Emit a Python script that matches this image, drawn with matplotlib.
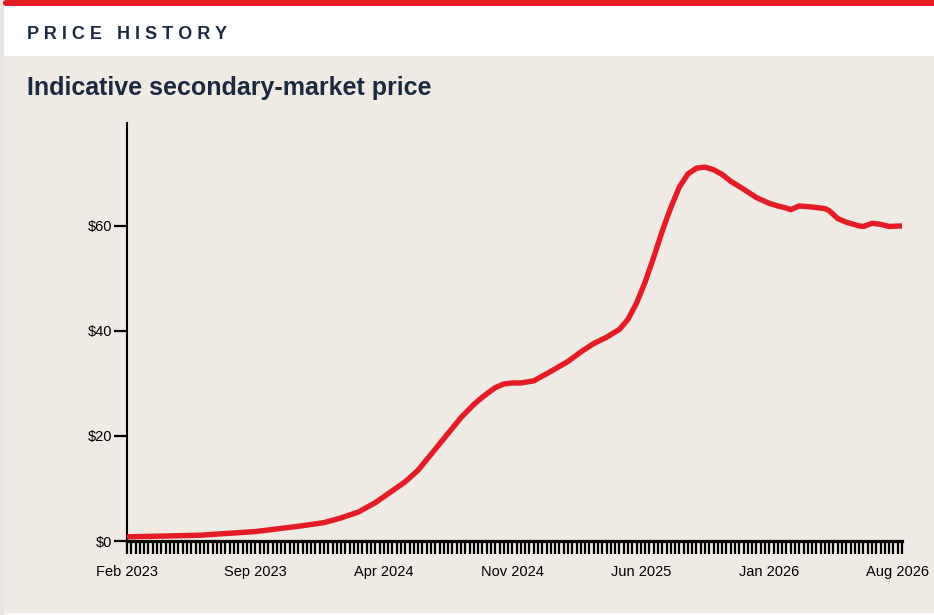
import numpy as np
import pandas as pd
import matplotlib
matplotlib.use("Agg")
import matplotlib.pyplot as plt
from matplotlib.patches import Rectangle, FancyBboxPatch

# Price readings (USD), sampled off the chart
dates = [
    "2023-02-20", "2023-04-24", "2023-06-19", "2023-09-18", "2023-11-27",
    "2024-01-08", "2024-02-05", "2024-03-04", "2024-04-01", "2024-04-22", "2024-05-20",
    "2024-06-10", "2024-07-01", "2024-07-22", "2024-08-19", "2024-09-09", "2024-09-23",
    "2024-10-14", "2024-10-28", "2024-11-11", "2024-11-25", "2024-12-16", "2025-01-13",
    "2025-02-10", "2025-03-03", "2025-03-24", "2025-04-14", "2025-05-05",
    "2025-05-19", "2025-06-02", "2025-06-16", "2025-06-30", "2025-07-14",
    "2025-07-28", "2025-08-11", "2025-08-25", "2025-09-08", "2025-09-22",
    "2025-10-06", "2025-10-20", "2025-11-03", "2025-11-24", "2025-12-15",
    "2026-01-05", "2026-01-19", "2026-02-02", "2026-02-09", "2026-02-23",
    "2026-03-16", "2026-04-06", "2026-04-13", "2026-04-27", "2026-05-11",
    "2026-06-01", "2026-06-08", "2026-06-22", "2026-07-06", "2026-07-20",
    "2026-08-10",
]
prices = [
    0.8, 0.95, 1.1, 1.8, 2.8,
    3.5, 4.4, 5.5, 7.3, 9.0, 11.3,
    13.5, 16.5, 19.5, 23.5, 26.0, 27.4,
    29.2, 29.9, 30.1, 30.1, 30.5, 32.3,
    34.2, 36.0, 37.6, 38.8, 40.3,
    42.2, 45.3, 49.3, 54.0, 59.0,
    63.5, 67.4, 69.9, 71.0, 71.2,
    70.7, 69.8, 68.5, 67.0, 65.4,
    64.3, 63.8, 63.4, 63.1, 63.8,
    63.6, 63.3, 62.9, 61.4, 60.7,
    60.0, 59.9, 60.5, 60.3, 59.9,
    60.0,
]
y_ticks = [0, 20, 40, 60]
y_labels = ["$0", "$20", "$40", "$60"]

navy = "#1b2a41"
red = "#e31c25"
beige = "#efebe4"

plt.rcParams["font.family"] = ["Liberation Sans", "DejaVu Sans"]

W, H = 934, 615
fig = plt.figure(figsize=(W / 100, H / 100), dpi=100)
fig.patch.set_facecolor("white")

# card background, header, red top bar, left border
fig.add_artist(Rectangle((4 / W, 0), 1, 1 - 56 / H, transform=fig.transFigure,
                         facecolor=beige, edgecolor="none", zorder=0))
fig.add_artist(Rectangle((0, 0), 4 / W, 1, transform=fig.transFigure,
                         facecolor="#e6e6e6", edgecolor="none", zorder=0))
fig.add_artist(Rectangle((4 / W, 0), 1, 2 / H, transform=fig.transFigure,
                         facecolor="#f6f6f6", edgecolor="none", zorder=0))
fig.add_artist(FancyBboxPatch((3 / W, 1 - 6 / H), 1, 6 / H, transform=fig.transFigure,
                              boxstyle="round,pad=0,rounding_size=0.004",
                              facecolor=red, edgecolor="none", zorder=1))

fig.text(27 / W, 1 - 39 / H, "P R I C E   H I S T O R Y", color=navy,
         fontsize=13, fontweight="bold", va="baseline", ha="left")
fig.text(27 / W, 1 - 95 / H, "Indicative secondary-market price", color=navy,
         fontsize=18, fontweight="bold", va="baseline", ha="left")

ax = fig.add_axes([127 / W, (H - 541) / H, (902 - 127) / W, (541 - 123) / H])
ax.set_facecolor("none")

x = pd.to_datetime(dates)
ax.plot(x, prices, color=red, lw=3.9, solid_joinstyle="round", solid_capstyle="butt",
        zorder=3, clip_on=False)

# weekly ticks, one label every 30 weeks
weeks = pd.date_range("2023-02-20", periods=182, freq="7D")
ax.set_xlim(weeks[0], weeks[-1])
ax.set_xticks(weeks)
ax.set_xticklabels([d.strftime("%b %Y") if i % 30 == 0 else "" for i, d in enumerate(weeks)])
ax.tick_params(axis="x", length=9.5, width=1.6, pad=7.5, labelsize=10.5, colors="black")

ax.set_ylim(0, 79.6)
ax.set_yticks(y_ticks)
ax.set_yticklabels(y_labels)
ax.tick_params(axis="y", length=9.5, width=1.6, pad=1, labelsize=10.5, colors="black")

for s in ["top", "right"]:
    ax.spines[s].set_visible(False)
ax.spines["bottom"].set_linewidth(2.3)
ax.spines["left"].set_linewidth(1.5)

fig.savefig("out.png", dpi=100, facecolor=fig.get_facecolor())
